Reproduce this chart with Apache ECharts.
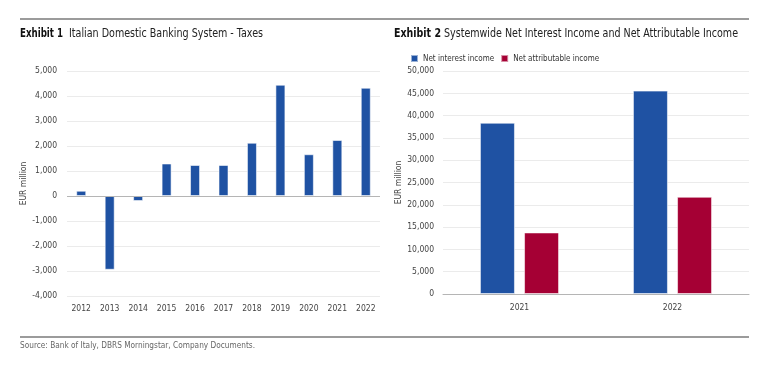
<!DOCTYPE html>
<html>
<head>
<meta charset="utf-8">
<script src="https://cdn.jsdelivr.net/npm/echarts@6/dist/echarts.min.js"></script>
<style>
  html, body { margin: 0; padding: 0; background: #fff; }
  #chart { width: 765px; height: 375px; }
</style>
</head>
<body>
<div id="chart"></div>
<script>
// exhibit 1 - taxes
const YEARS = ['2012', '2013', '2014', '2015', '2016', '2017', '2018', '2019', '2020', '2021', '2022']
const TAXES = [210, -2950, -200, 1300, 1240, 1240, 2130, 4450, 1670, 2240, 4330]

// exhibit 2 - income
const INCOME_YEARS = ['2021', '2022']
const NET_INTEREST = [38400, 45600]
const NET_ATTRIBUTABLE = [13800, 21800]

const FONT = '"DejaVu Sans Condensed", "Liberation Sans Narrow", sans-serif'
const BLUE = '#1f52a3'
const RED = '#a50034'

let fmt = v => v.toLocaleString('en-US')

// the original uses a condensed face, squeeze the titles to the same width
let ctx = document.createElement('canvas').getContext('2d')
let squeeze = (text, font, width) => {
  ctx.font = font
  return width / ctx.measureText(text).width
}

let label = (text, x, y, size, weight, color, width) => {
  let font = weight + ' ' + size + 'px ' + FONT
  return {
    type: 'text', x: x, y: y,
    scaleX: squeeze(text, font, width),
    style: { text: text, font: font, fill: color, verticalAlign: 'middle' }
  }
}

let axisLabel = { fontFamily: FONT, fontSize: 8.5, color: '#444' }
let splitLine = { show: true, lineStyle: { color: '#ebebeb', width: 1 } }

let chart = echarts.init(document.getElementById('chart'), null, { renderer: 'canvas' })

chart.setOption({
  animation: false,
  textStyle: { fontFamily: FONT },
  legend: {
    left: 405, top: 49,
    icon: 'rect',
    itemWidth: 7, itemHeight: 7, itemGap: 6,
    textStyle: { fontFamily: FONT, fontSize: 8, color: '#333' },
    data: ['Net interest income', 'Net attributable income']
  },
  graphic: [
    { type: 'line', shape: { x1: 20, y1: 19, x2: 749, y2: 19 }, style: { stroke: '#7a7a7a', lineWidth: 1.5 } },
    { type: 'line', shape: { x1: 20, y1: 337, x2: 749, y2: 337 }, style: { stroke: '#7a7a7a', lineWidth: 1.5 } },
    label('Exhibit 1', 20, 34, 12, 'bold', '#111', 43),
    label('Italian Domestic Banking System - Taxes', 69, 34, 12, 'normal', '#222', 194),
    label('Exhibit 2', 394, 34, 12, 'bold', '#111', 47),
    label('Systemwide Net Interest Income and Net Attributable Income', 444, 34, 12, 'normal', '#222', 294),
    label('Source: Bank of Italy, DBRS Morningstar, Company Documents.', 20, 346, 9, 'normal', '#666', 235)
  ],
  grid: [
    { left: 67, right: 385, top: 71, bottom: 79 },
    { left: 443, right: 16, top: 71, bottom: 81 }
  ],
  xAxis: [
    {
      gridIndex: 0, type: 'category', data: YEARS,
      axisLine: { show: false }, axisTick: { show: false },
      axisLabel: Object.assign({ margin: 8 }, axisLabel)
    },
    {
      gridIndex: 1, type: 'category', data: INCOME_YEARS,
      axisLine: { show: true, lineStyle: { color: '#b5b5b5' } }, axisTick: { show: false },
      axisLabel: Object.assign({ margin: 9 }, axisLabel)
    }
  ],
  yAxis: [
    {
      gridIndex: 0, type: 'value', min: -4000, max: 5000, interval: 1000,
      name: 'EUR million', nameLocation: 'middle', nameGap: 39,
      nameTextStyle: { fontFamily: FONT, fontSize: 8.5, color: '#444' },
      axisLine: { show: false }, axisTick: { show: false },
      axisLabel: Object.assign({ formatter: fmt, margin: 10 }, axisLabel),
      splitLine: splitLine
    },
    {
      gridIndex: 1, type: 'value', min: 0, max: 50000, interval: 5000,
      name: 'EUR million', nameLocation: 'middle', nameGap: 39,
      nameTextStyle: { fontFamily: FONT, fontSize: 8.5, color: '#444' },
      axisLine: { show: false }, axisTick: { show: false },
      axisLabel: Object.assign({ formatter: fmt, margin: 9 }, axisLabel),
      splitLine: splitLine
    }
  ],
  series: [
    {
      name: 'Taxes', type: 'bar', xAxisIndex: 0, yAxisIndex: 0,
      data: TAXES, barWidth: 10,
      itemStyle: { color: BLUE, borderColor: 'rgba(255,255,255,0.55)', borderWidth: 1 },
      markLine: {
        silent: true, symbol: 'none', label: { show: false },
        lineStyle: { color: '#b5b5b5', type: 'solid', width: 1 },
        data: [{ yAxis: 0 }]
      }
    },
    {
      name: 'Net interest income', type: 'bar', xAxisIndex: 1, yAxisIndex: 1,
      data: NET_INTEREST, barWidth: 35, barGap: '26%',
      itemStyle: { color: BLUE, borderColor: 'rgba(255,255,255,0.55)', borderWidth: 1 }
    },
    {
      name: 'Net attributable income', type: 'bar', xAxisIndex: 1, yAxisIndex: 1,
      data: NET_ATTRIBUTABLE, barWidth: 35, barGap: '26%',
      itemStyle: { color: RED, borderColor: 'rgba(255,255,255,0.55)', borderWidth: 1 }
    }
  ]
})
</script>
</body>
</html>
